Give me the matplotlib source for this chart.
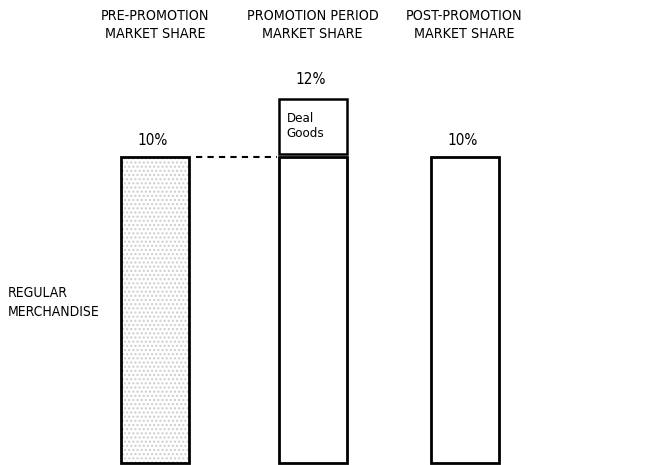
import matplotlib.pyplot as plt
import matplotlib as mpl

# ==== data
periods = ["PRE-PROMOTION\nMARKET SHARE",
           "PROMOTION PERIOD\nMARKET SHARE",
           "POST-PROMOTION\nMARKET SHARE"]
regular_share = [10, 10, 10]
deal_share = [0, 2, 0]
total_labels = ["10%", "12%", "10%"]
row_label = "REGULAR\nMERCHANDISE"
deal_label = "Deal\nGoods"

# ==== layout (pixel-ish x coordinates, percent on y)
xc = [155, 312.5, 464.5]
width = 68
gap = 0.1  # small gap between regular and deal boxes

mpl.rcParams['font.family'] = ['DejaVu Sans']
mpl.rcParams['font.stretch'] = 'condensed'

fig = plt.figure(figsize=(6.55, 4.65), dpi=100)
ax = fig.add_axes([0, 0, 1, 1])
ax.set_xlim(0, 655)
ax.set_ylim(-0.065, 15.13)
ax.axis("off")

# stipple texture on the first bar only
ax.bar(xc[0], regular_share[0], width=width, bottom=0, color="white",
       edgecolor="#cdcdcd", hatch="....", linewidth=0, zorder=1)

# regular merchandise outlines
ax.bar(xc, regular_share, width=width, bottom=0, facecolor="none",
       edgecolor="black", linewidth=2, zorder=2)

# deal goods box on top of the promotion bar
for x, r, d in zip(xc, regular_share, deal_share):
    if d > 0:
        ax.bar(x, d - 2 * gap, width=width, bottom=r + gap, facecolor="white",
               edgecolor="black", linewidth=1.8, zorder=2)
        ax.text(x - width / 2 + 8, r + d / 2, deal_label,
                ha="left", va="center", fontsize=9.5, linespacing=1.2)

# dashed reference line at the pre-promotion level
ax.plot([xc[0] + width / 2 + 7, xc[1] - width / 2 - 2],
        [regular_share[0], regular_share[0]], color="black",
        linestyle=(0, (3, 2.5)), linewidth=1.5, zorder=2)

# totals above the bars
for x, r, d, lab in zip(xc, regular_share, deal_share, total_labels):
    ax.annotate(lab, (x - 2, r + d), xytext=(0, 12), textcoords="offset points",
                ha="center", va="center", fontsize=11)

# column headers
for x, p in zip(xc, periods):
    ax.text(x, 14.31, p, ha="center", va="center", fontsize=10.3, linespacing=1.4)

ax.text(8, 5.23, row_label, ha="left", va="center", fontsize=10, linespacing=1.45)

fig.savefig("out.png", dpi=100)
